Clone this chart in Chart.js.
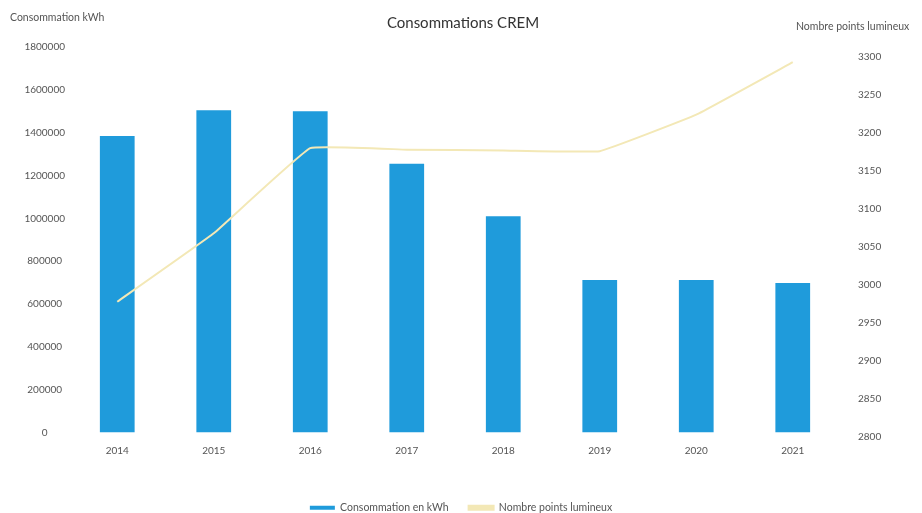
<!DOCTYPE html>
<html>
<head>
<meta charset="utf-8">
<script src="https://cdn.jsdelivr.net/npm/chart.js@4.4.1/dist/chart.umd.min.js"></script>
<style>
  html, body { margin: 0; padding: 0; background: #fff; }
  #wrap { width: 922px; height: 513px; }
</style>
</head>
<body>
<div id="wrap"><canvas id="cremChart"></canvas></div>
<script>
// Data
const years = ['2014', '2015', '2016', '2017', '2018', '2019', '2020', '2021'];
const consoKwh = [1384000, 1505000, 1500000, 1255000, 1010000, 712000, 712000, 698000];
const pointsLumineux = [2978, 3068, 3180, 3178, 3177, 3176, 3224, 3293];
const rightTicks = [2800, 2850, 2900, 2950, 3000, 3050, 3100, 3150, 3200, 3250, 3300];

const FONT = 'Lato, "Open Sans", sans-serif';
const BAR_BLUE = '#1f9bdb';
const LINE_YELLOW = '#f3e8b6';

// Titles drawn as text around the plot area
const headerText = {
    id: 'headerText',
    afterDraw(chart) {
        const ctx = chart.ctx;
        ctx.save();
        ctx.fillStyle = '#333';
        ctx.font = '15px ' + FONT;
        ctx.textAlign = 'center';
        ctx.textBaseline = 'middle';
        ctx.fillText('Consommations CREM', 463, 23);

        ctx.fillStyle = '#555';
        ctx.font = '10.5px ' + FONT;
        ctx.textAlign = 'left';
        ctx.fillText('Consommation kWh', 10, 18);
        ctx.fillText('Nombre points lumineux', 796, 27);
        ctx.restore();
    }
};

const ctx = document.getElementById('cremChart').getContext('2d');
new Chart(ctx, {
    type: 'bar',
    data: {
        labels: years,
        datasets: [{
            label: 'Consommation en kWh',
            data: consoKwh,
            backgroundColor: BAR_BLUE,
            borderWidth: 0,
            barPercentage: 0.36,
            categoryPercentage: 1,
            yAxisID: 'y',
            order: 2
        }, {
            type: 'line',
            label: 'Nombre points lumineux',
            data: pointsLumineux,
            borderColor: LINE_YELLOW,
            backgroundColor: LINE_YELLOW,
            borderWidth: 2,
            pointRadius: 0,
            tension: 0.08,
            yAxisID: 'y1',
            order: 1
        }]
    },
    options: {
        responsive: true,
        maintainAspectRatio: false,
        animation: false,
        layout: { padding: { top: 47, left: 0, right: 0, bottom: -10 } },
        scales: {
            x: {
                grid: { display: false },
                border: { display: false },
                ticks: { color: '#555', font: { family: FONT, size: 10 }, padding: 4 },
                afterFit(scale) { scale.height = 50; }
            },
            y: {
                position: 'left',
                min: 0,
                max: 1800000,
                grid: { display: false, drawTicks: false },
                border: { display: false },
                ticks: {
                    stepSize: 200000,
                    crossAlign: 'center',
                    padding: 4,
                    color: '#555',
                    font: { family: FONT, size: 10 },
                    callback: (value) => String(value)
                },
                afterFit(scale) { scale.width = 69; }
            },
            y1: {
                position: 'right',
                min: 2806,
                max: 3313,
                grid: { display: false, drawTicks: false },
                border: { display: false },
                ticks: {
                    padding: 17,
                    color: '#555',
                    font: { family: FONT, size: 10 },
                    callback: (value) => String(value)
                },
                afterBuildTicks(scale) {
                    scale.ticks = rightTicks.map(v => ({ value: v }));
                },
                afterFit(scale) { scale.width = 81; }
            }
        },
        plugins: {
            legend: {
                position: 'bottom',
                labels: {
                    boxWidth: 25,
                    boxHeight: 4,
                    padding: 20,
                    color: '#555',
                    font: { family: FONT, size: 10.5 },
                    sort: (a, b) => a.datasetIndex - b.datasetIndex
                }
            },
            title: { display: false },
            tooltip: { enabled: false }
        }
    },
    plugins: [headerText]
});
</script>
</body>
</html>
